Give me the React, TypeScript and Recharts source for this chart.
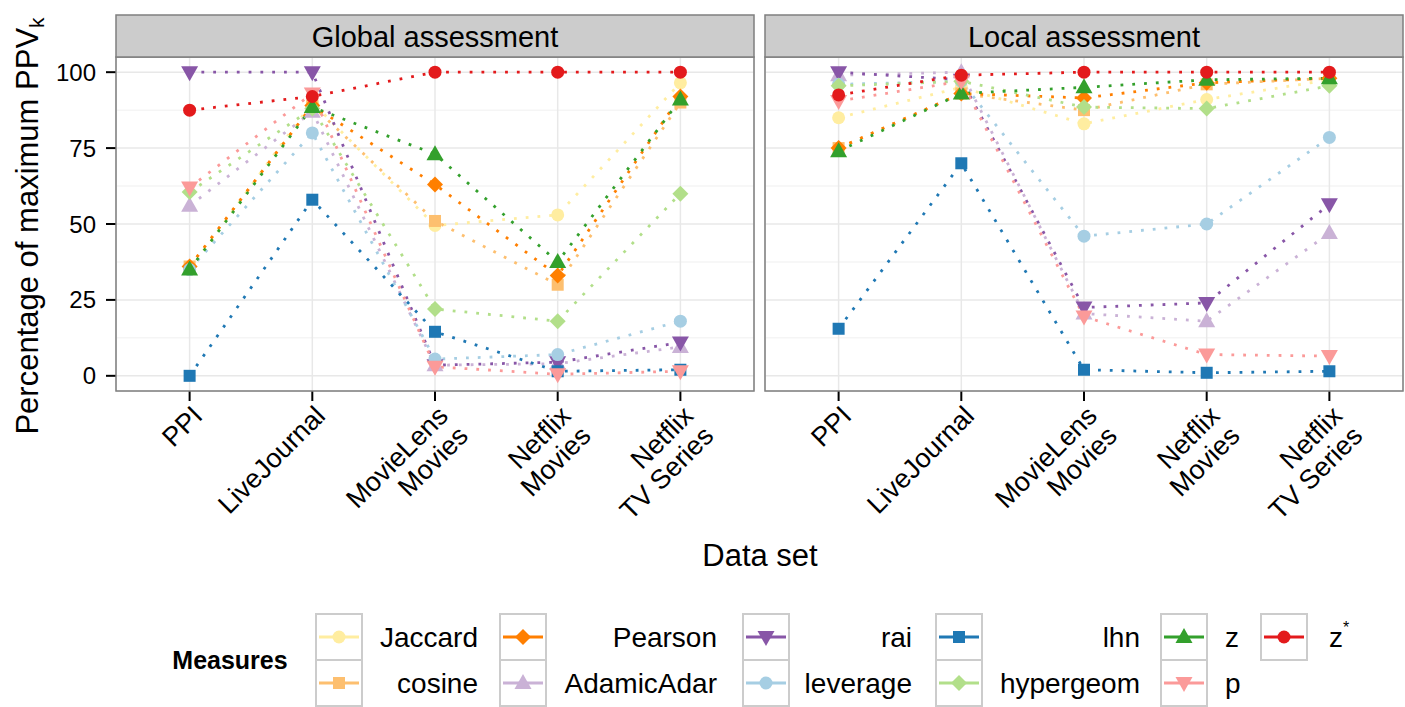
import React from 'react';
import { LineChart, Line, XAxis, YAxis, CartesianGrid } from 'recharts';

const FONT = "'Liberation Sans', Arial, Helvetica, sans-serif";

const categories = ['PPI', 'LiveJournal', 'MovieLens\nMovies', 'Netflix\nMovies', 'Netflix\nTV Series'];
const yTicks = [0, 25, 50, 75, 100];
const yMinor = [12.5, 37.5, 62.5, 87.5];

// Global assessment
const jaccardG = [35, 90, 49.5, 53, 96.5];
const cosineG = [36, 89, 51, 30, 90];
const pearsonG = [36, 89, 63, 33, 92];
const adamicG = [56, 87, 3.5, 4, 9.5];
const raiG = [100, 100, 3.5, 4.5, 11];
const leverageG = [35, 80, 5.5, 7, 18];
const lhnG = [0, 58, 14.5, 1.5, 2];
const hyperG = [60.5, 88, 22, 18, 60];
const zG = [35, 88.5, 73, 37.5, 91];
const pG = [62, 93, 3, 0.5, 1.5];
const zstarG = [87.5, 92, 100, 100, 100];

// Local assessment
const jaccardL = [85, 95, 83, 91, 97.5];
const cosineL = [75, 93, 87.5, 96, 98];
const pearsonL = [75, 93, 91.5, 96.5, 98];
const adamicL = [99, 100, 20.5, 18, 47];
const raiL = [100, 97.5, 22.5, 24, 56.5];
const leverageL = [96, 97, 46, 50, 78.5];
const lhnL = [15.5, 70, 2, 1, 1.5];
const hyperL = [95.5, 97, 88.5, 88, 95.5];
const zL = [74, 93, 95, 97.5, 98];
const pL = [90.5, 97, 19.5, 7, 6.5];
const zstarL = [92.5, 99, 100, 100, 100];

type Shape = 'circle' | 'square' | 'diamond' | 'up' | 'down';

const measures: { key: string; label: string; color: string; shape: Shape }[] = [
  { key: 'Jaccard', label: 'Jaccard', color: '#FFEDA0', shape: 'circle' },
  { key: 'cosine', label: 'cosine', color: '#FDBF6F', shape: 'square' },
  { key: 'Pearson', label: 'Pearson', color: '#FF7F00', shape: 'diamond' },
  { key: 'AdamicAdar', label: 'AdamicAdar', color: '#CAB2D6', shape: 'up' },
  { key: 'rai', label: 'rai', color: '#8856A7', shape: 'down' },
  { key: 'leverage', label: 'leverage', color: '#A6CEE3', shape: 'circle' },
  { key: 'lhn', label: 'lhn', color: '#1F78B4', shape: 'square' },
  { key: 'hypergeom', label: 'hypergeom', color: '#B2DF8A', shape: 'diamond' },
  { key: 'z', label: 'z', color: '#33A02C', shape: 'up' },
  { key: 'p', label: 'p', color: '#FB9A99', shape: 'down' },
  { key: 'zstar', label: 'z*', color: '#E31A1C', shape: 'circle' },
];

const globalSeries: Record<string, number[]> = {
  Jaccard: jaccardG, cosine: cosineG, Pearson: pearsonG, AdamicAdar: adamicG, rai: raiG,
  leverage: leverageG, lhn: lhnG, hypergeom: hyperG, z: zG, p: pG, zstar: zstarG,
};
const localSeries: Record<string, number[]> = {
  Jaccard: jaccardL, cosine: cosineL, Pearson: pearsonL, AdamicAdar: adamicL, rai: raiL,
  leverage: leverageL, lhn: lhnL, hypergeom: hyperL, z: zL, p: pL, zstar: zstarL,
};

function buildRows(series: Record<string, number[]>) {
  return categories.map((c, i) => {
    const row: Record<string, number | string> = { idx: i + 1, name: c };
    measures.forEach(m => { row[m.key] = series[m.key][i]; });
    return row;
  });
}

const globalRows = buildRows(globalSeries);
const localRows = buildRows(localSeries);

function Marker({ shape, color, cx, cy }: { shape: Shape; color: string; cx: number; cy: number }) {
  if (shape === 'circle') return <circle cx={cx} cy={cy} r={6.5} fill={color} />;
  if (shape === 'square') return <rect x={cx - 6} y={cy - 6} width={12} height={12} fill={color} />;
  if (shape === 'diamond')
    return <polygon points={`${cx},${cy - 8} ${cx + 8},${cy} ${cx},${cy + 8} ${cx - 8},${cy}`} fill={color} />;
  if (shape === 'up')
    return <polygon points={`${cx},${cy - 9} ${cx + 8.5},${cy + 6} ${cx - 8.5},${cy + 6}`} fill={color} />;
  return <polygon points={`${cx},${cy + 9} ${cx + 8.5},${cy - 6} ${cx - 8.5},${cy - 6}`} fill={color} />;
}

function makeDot(shape: Shape, color: string) {
  return (props: any) => {
    const { cx, cy, index } = props;
    if (cx == null || cy == null) return <g key={index} />;
    return (
      <g key={index}>
        <Marker shape={shape} color={color} cx={cx} cy={cy} />
      </g>
    );
  };
}

function XTick(props: any) {
  const { x, y, payload } = props;
  const label = categories[payload.value - 1] || '';
  const lines = label.split('\n');
  return (
    <g transform={`translate(${x},${y}) rotate(-45)`}>
      <text textAnchor="end" fontSize={27} fill="#000" fontFamily={FONT}>
        {lines.map((l, i) => (
          <tspan key={i} x={0} dy={i === 0 ? '0.76em' : '1.05em'}>{l}</tspan>
        ))}
      </text>
    </g>
  );
}

function Panel({ rows, showY }: { rows: any[]; showY: boolean }) {
  const width = showY ? 760 : 705;
  const margin = showY ? { top: 57, right: 6, bottom: 0, left: 56 } : { top: 57, right: 2, bottom: 0, left: 65 };
  return (
    <LineChart width={width} height={560} data={rows} margin={margin}>
      <CartesianGrid horizontalValues={yMinor} vertical={false} stroke="#F5F5F5" strokeWidth={1.5} />
      <CartesianGrid stroke="#E8E8E8" strokeWidth={1.5} />
      <XAxis
        type="number"
        dataKey="idx"
        domain={[0.4, 5.6]}
        ticks={[1, 2, 3, 4, 5]}
        interval={0}
        height={169}
        axisLine={false}
        tickSize={10}
        tickMargin={2}
        tickLine={{ stroke: '#000', strokeWidth: 2 }}
        tick={<XTick />}
      />
      <YAxis
        hide={!showY}
        width={60}
        domain={[-5, 105]}
        ticks={yTicks}
        interval={0}
        axisLine={false}
        tickSize={10}
        tickMargin={10}
        tickLine={{ stroke: '#000', strokeWidth: 2 }}
        tick={{ fill: '#000', fontSize: 24, fontFamily: FONT }}
      />
      {measures.map(m => (
        <Line
          key={`l-${m.key}`}
          dataKey={m.key}
          type="linear"
          stroke={m.color}
          strokeWidth={2.8}
          strokeDasharray="2.8 9"
          dot={false}
          activeDot={false}
          isAnimationActive={false}
        />
      ))}
      {measures.map(m => (
        <Line
          key={`p-${m.key}`}
          dataKey={m.key}
          type="linear"
          stroke="none"
          dot={makeDot(m.shape, m.color)}
          activeDot={false}
          isAnimationActive={false}
        />
      ))}
    </LineChart>
  );
}

const legendCols = [
  { keyX: 316, labelX: 478, anchor: 'end', items: ['Jaccard', 'cosine'] },
  { keyX: 500, labelX: 717, anchor: 'end', items: ['Pearson', 'AdamicAdar'] },
  { keyX: 743, labelX: 912, anchor: 'end', items: ['rai', 'leverage'] },
  { keyX: 936, labelX: 1140, anchor: 'end', items: ['lhn', 'hypergeom'] },
  { keyX: 1161, labelX: 1225, anchor: 'start', items: ['z', 'p'] },
  { keyX: 1261, labelX: 1329, anchor: 'start', items: ['zstar'] },
];

function Overlay() {
  const rowTop = [614, 660];
  return (
    <svg width={1405} height={707} style={{ position: 'absolute', left: 0, top: 0, pointerEvents: 'none' }} fontFamily={FONT}>
      <rect x={116} y={57} width={638} height={334} fill="none" stroke="#7F7F7F" strokeWidth={1.5} />
      <rect x={765} y={57} width={638} height={334} fill="none" stroke="#7F7F7F" strokeWidth={1.5} />
      <rect x={116} y={15} width={638} height={42} fill="#CCCCCC" stroke="#7F7F7F" strokeWidth={1.5} />
      <rect x={765} y={15} width={638} height={42} fill="#CCCCCC" stroke="#7F7F7F" strokeWidth={1.5} />
      <text x={435} y={47} textAnchor="middle" fontSize={29} fill="#000">Global assessment</text>
      <text x={1084} y={47} textAnchor="middle" fontSize={29} fill="#000">Local assessment</text>
      <text transform="translate(38,226) rotate(-90)" textAnchor="middle" fontSize={31} fill="#000">
        Percentage of maximum PPV<tspan fontSize={21} dy={6}>k</tspan>
      </text>
      <text x={760} y={566} textAnchor="middle" fontSize={31} fill="#000">Data set</text>
      <text x={230} y={669} textAnchor="middle" fontSize={25} fontWeight="bold" fill="#000">Measures</text>
      {legendCols.map((col, ci) =>
        col.items.map((k, ri) => {
          const m = measures.find(mm => mm.key === k)!;
          const top = rowTop[ri];
          const cy = top + 23;
          return (
            <g key={`${ci}-${ri}`}>
              <rect x={col.keyX} y={top} width={46} height={46} fill="#fff" stroke="#CCCCCC" strokeWidth={2} />
              <line x1={col.keyX + 3} x2={col.keyX + 43} y1={cy} y2={cy} stroke={m.color} strokeWidth={3} />
              <Marker shape={m.shape} color={m.color} cx={col.keyX + 23} cy={cy} />
              <text x={col.labelX} y={cy + 10} textAnchor={col.anchor as any} fontSize={28} fill="#000">
                {k === 'zstar' ? (
                  <>
                    z<tspan fontSize={16} dy={-14}>*</tspan>
                  </>
                ) : (
                  m.label
                )}
              </text>
            </g>
          );
        })
      )}
    </svg>
  );
}

export default function App() {
  return (
    <div style={{ position: 'relative', width: 1405, height: 707, background: '#fff', fontFamily: FONT, overflow: 'hidden' }}>
      <style>{`body{margin:0}`}</style>
      <div style={{ position: 'absolute', left: 0, top: 0 }}>
        <Panel rows={globalRows} showY={true} />
      </div>
      <div style={{ position: 'absolute', left: 700, top: 0 }}>
        <Panel rows={localRows} showY={false} />
      </div>
      <Overlay />
    </div>
  );
}
